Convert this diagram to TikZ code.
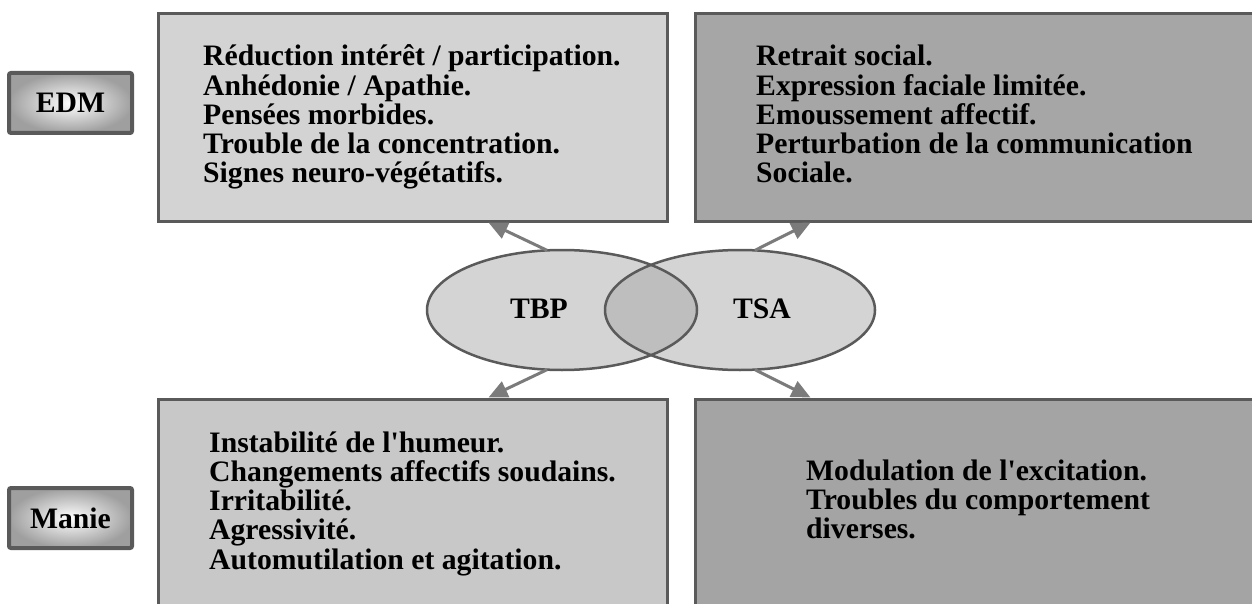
\documentclass[tikz,border=0pt]{standalone}
\usepackage{fontspec}
\setmainfont{Liberation Serif}
\usetikzlibrary{shapes.geometric,arrows.meta,calc}
\definecolor{pA}{HTML}{D3D3D3}
\definecolor{pB}{HTML}{A6A6A6}
\definecolor{pC}{HTML}{C8C8C8}
\definecolor{pD}{HTML}{A4A4A4}
\definecolor{edge}{HTML}{5A5A5A}
\definecolor{ellf}{HTML}{D4D4D4}
\definecolor{lensf}{HTML}{BEBEBE}
\definecolor{arrc}{HTML}{7B7B7B}
\newcommand\txtfont{\fontsize{29.7pt}{29.25pt}\selectfont\bfseries}
\newcommand\linesbox[1]{\vtop{\baselineskip=29.25pt\lineskiplimit=-1000pt\lineskip=0pt #1}}
\begin{document}
\begin{tikzpicture}[x=1pt,y=-1pt,
  panel/.style={draw=edge,line width=3pt,inner sep=0pt},
  listtxt/.style={anchor=base west,inner sep=0pt,font=\txtfont,align=left},
  ellnode/.style={ellipse,fill=ellf,minimum width=270pt,minimum height=120pt,inner sep=0pt,outer sep=0pt},
  ellline/.style={draw=edge,line width=2.5pt},
  tag/.style={draw=edge,line width=4pt,rounded corners=2pt,inner color=white,outer color=gray!75,minimum width=123pt,minimum height=60pt,inner sep=0pt,font=\txtfont},
  lbl/.style={font=\txtfont,inner sep=0pt},
  arr/.style={draw=arrc,line width=3pt,-{Triangle[length=19pt,width=17pt]}}]
\useasboundingbox (0,0) rectangle (1252,604);
\clip (0,0) rectangle (1252,604);
\fill[white] (0,0) rectangle (1252,604);
% panels
\node[panel,fill=pA,minimum width=509pt,minimum height=207pt] (tl) at (412.5,117.5) {};
\node[panel,fill=pB,minimum width=575pt,minimum height=207pt] (tr) at (982.5,117.5) {};
\node[panel,fill=pC,minimum width=509pt,minimum height=241pt] (bl) at (412.5,519.5) {};
\node[panel,fill=pD,minimum width=575pt,minimum height=241pt] (br) at (982.5,519.5) {};
% panel texts
\node[listtxt] (ttl) at (203,66) {\linesbox{\hbox{Réduction intérêt / participation.}\hbox{Anhédonie / Apathie.}\hbox{Pensées morbides.}\hbox{Trouble de la concentration.}\hbox{Signes neuro-végétatifs.}}};
\node[listtxt] (ttr) at (756,66) {\linesbox{\hbox{Retrait social.}\hbox{Expression faciale limitée.}\hbox{Emoussement affectif.}\hbox{Perturbation de la communication}\hbox{Sociale.}}};
\node[listtxt] (tbl) at (209,452) {\linesbox{\hbox{Instabilité de l\textquotesingle humeur.}\hbox{Changements affectifs soudains.}\hbox{Irritabilité.}\hbox{Agressivité.}\hbox{Automutilation et agitation.}}};
\node[listtxt] (tbr) at (806,480) {\linesbox{\hbox{Modulation de l\textquotesingle excitation.}\hbox{Troubles du comportement}\hbox{diverses.}}};
% side tags
\node[tag] (edm) at (70.5,103) {EDM};
\node[tag] (manie) at (70.5,518) {Manie};
% ellipses
\node[ellnode] (tbp) at (562,310) {};
\node[ellnode] (tsa) at (740,310) {};
\begin{scope}
  \clip (tbp.center) ellipse [x radius=135, y radius=60];
  \fill[lensf] (tsa.center) ellipse [x radius=135, y radius=60];
\end{scope}
\draw[ellline] (tbp.center) ellipse [x radius=135, y radius=60];
\draw[ellline] (tsa.center) ellipse [x radius=135, y radius=60];
\node[lbl] (ltbp) at (539,309) {TBP};
\node[lbl] (ltsa) at (762,309) {TSA};
% arrows
\draw[arr] (tbp.104) -- ($(tl.south west)+(332,0)$);
\draw[arr] (tsa.76) -- ($(tr.south west)+(117,0)$);
\draw[arr] (tbp.256) -- ($(bl.north west)+(332,0)$);
\draw[arr] (tsa.284) -- ($(br.north west)+(117,0)$);
\end{tikzpicture}
\end{document}
